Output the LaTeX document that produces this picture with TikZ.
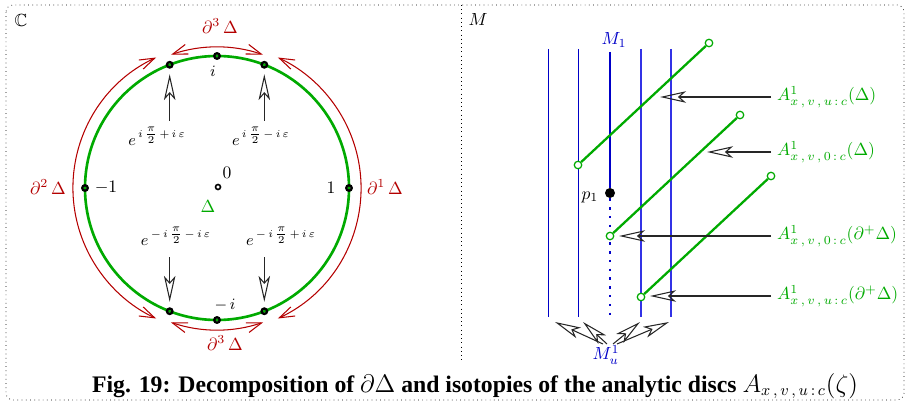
\documentclass[tikz,border=0pt]{standalone}
\usepackage{amsmath,amssymb}
\usepackage{fontspec}
\newfontfamily\capfont{Liberation Serif}
\usepackage{tikz}
\usetikzlibrary{arrows.meta,calc}
\definecolor{discgreen}{RGB}{0,170,0}
\definecolor{leafblue}{RGB}{0,0,200}
\definecolor{leafpale}{RGB}{50,50,230}
\definecolor{bdryred}{RGB}{180,0,0}

\begin{document}
\begin{tikzpicture}[
    x=0.02cm, y=-0.02cm,
    hollow/.style={-{Stealth[open,length=5.2mm,width=2.3mm,inset=1.3mm]}, semithick, black!85},
    bdry/.style={{Straight Barb[length=3mm,width=2mm]}-{Straight Barb[length=3mm,width=2mm]}, bdryred, semithick},
    bpt/.style={circle, draw, line width=1.3pt, inner sep=0pt, minimum size=1.1mm},
    gpt/.style={circle, draw=discgreen, fill=white, line width=0.7pt, inner sep=0pt, minimum size=1.5mm},
    leaf/.style={draw=leafblue, line width=0.5pt},
    paleleaf/.style={draw=leafpale, line width=0.65pt},
    disc/.style={discgreen, line width=1.3pt},
    elbl/.style={font=\small},
    alb/.style={anchor=west, text=discgreen}
]
\useasboundingbox (0,0) rectangle (908,405);
\draw[dotted, rounded corners=4pt] (6,5) rectangle (904,400);
\draw[dotted] (461,5) -- (461,360);

% left panel: the unit disc
\node (cplx) at (21,20) {$\mathbb{C}$};
\coordinate (O) at (217,188);
\draw[discgreen, line width=1.5pt] (O) circle[radius=132];
\draw[bdry] ($(O)+(65:144)$) arc[start angle=65, end angle=-65, radius=144];
\draw[bdry] ($(O)+(-115:144)$) arc[start angle=-115, end angle=-245, radius=144];
\draw[bdry] ($(O)+(-71:141)$) arc[start angle=-71, end angle=-109, radius=141];
\draw[bdry] ($(O)+(109:142)$) arc[start angle=109, end angle=71, radius=142];

\node[bpt] (pm1) at ($(O)+(180:132)$) {};
\node[bpt] (pp1) at ($(O)+(0:132)$) {};
\node[bpt] (pi) at ($(O)+(-90:132)$) {};
\node[bpt] (pmi) at ($(O)+(90:132)$) {};
\node[bpt] (ul) at ($(O)+(-111:132)$) {};
\node[bpt] (ur) at ($(O)+(-69:132)$) {};
\node[bpt] (ll) at ($(O)+(111:132)$) {};
\node[bpt] (lr) at ($(O)+(69:132)$) {};
\node[circle, draw, fill=white, line width=0.9pt, inner sep=0pt, minimum size=1mm] (zero) at (218,187) {};

\node (lm1) at (106,188) {$-1$};
\node (lp1) at (331,188) {$1$};
\node[font=\small] (li) at (213,71) {$i$};
\node[font=\small] (lmi) at (225,305) {$-\,i$};
\node (l0) at (227,173) {$0$};
\node[text=discgreen] (ldisc) at (208,206) {$\Delta$};

\node[text=bdryred] (d3t) at (220,26) {$\partial^3\,\Delta$};
\node[text=bdryred] (d2) at (48,187) {$\partial^2\,\Delta$};
\node[text=bdryred] (d1) at (385,187) {$\partial^1\,\Delta$};
\node[text=bdryred] (d3b) at (225,343) {$\partial^3\,\Delta$};

\node[elbl] (eul) at (157,136) {$e^{\,i\,\tfrac{\pi}{2}\,+\,i\,\varepsilon}$};
\node[elbl] (eur) at (261,136) {$e^{\,i\,\tfrac{\pi}{2}\,-\,i\,\varepsilon}$};
\node[elbl] (ell) at (176,236) {$e^{\,-\,i\,\tfrac{\pi}{2}\,-\,i\,\varepsilon}$};
\node[elbl] (elr) at (281,236) {$e^{\,-\,i\,\tfrac{\pi}{2}\,+\,i\,\varepsilon}$};
\draw[hollow, shorten >=1.1mm] (eul.north -| ul) -- (ul);
\draw[hollow, shorten >=1.1mm] (eur.north -| ur) -- (ur);
\draw[hollow, shorten >=1.1mm, shorten <=1.2mm] (ell.south -| ll) -- (ll);
\draw[hollow, shorten >=1.1mm, shorten <=1.2mm] (elr.south -| lr) -- (lr);

% right panel: the leaves and the discs
\node (M) at (478,19) {$M$};
\draw[leaf] (548,49) -- (548,317);
\draw[leaf] (578,49) -- (578,317);
\draw[paleleaf] (641,49) -- (641,317);
\draw[paleleaf] (671,49) -- (671,317);
\node[circle, fill, inner sep=0pt, minimum size=2mm] (p1) at (610,193) {};
\draw[leafblue, line width=1.3pt] (610,52) -- (p1);
\draw[leafblue, line width=1.3pt, dash pattern=on 1.4pt off 3.6pt] (p1) -- (610,318);
\node[text=leafblue] (M1) at (614,40) {$M_1$};
\node (lp1) at (590,197) {$p_1$};

\node[gpt] (d1a) at (578,165) {};
\node[gpt] (d1b) at (709,43) {};
\node[gpt] (d2a) at (610,236) {};
\node[gpt] (d2b) at (740,115) {};
\node[gpt] (d3a) at (641,297) {};
\node[gpt] (d3b) at (771,176) {};
\draw[disc] (d1a) -- (d1b);
\draw[disc] (d2a) -- (d2b);
\draw[disc] (d3a) -- (d3b);

\node[alb] (A1) at (771,97) {$A^1_{x\,,\,v\,,\,u\,:\,c}(\Delta)$};
\node[alb] (A2) at (771,152) {$A^1_{x\,,\,v\,,\,0\,:\,c}(\Delta)$};
\node[alb] (A3) at (771,236) {$A^1_{x\,,\,v\,,\,0\,:\,c}(\partial^+\Delta)$};
\node[alb] (A4) at (771,296) {$A^1_{x\,,\,v\,,\,u\,:\,c}(\partial^+\Delta)$};
\coordinate (t1) at (660,97);
\coordinate (t2) at (707,152);
\coordinate (t3) at (619,236);
\coordinate (t4) at (650,296);
\draw[hollow] (A1) -- (t1);
\draw[hollow] (A2) -- (t2);
\draw[hollow] (A3) -- (t3);
\draw[hollow] (A4) -- (t4);

\node[text=leafblue] (Mu) at (606,355) {$M^1_u$};
\coordinate (r1) at (603,344);
\coordinate (r2) at (607,344);
\coordinate (r3) at (613,344);
\coordinate (r4) at (617,344);
\coordinate (b1) at (555,322);
\coordinate (b2) at (583,322);
\coordinate (b3) at (640,322);
\coordinate (b4) at (669,322);
\draw[hollow] (r1) -- (b1);
\draw[hollow] (r2) -- (b2);
\draw[hollow] (r3) -- (b3);
\draw[hollow] (r4) -- (b4);

\node[font=\capfont\bfseries\fontsize{13.5}{16}\selectfont] (cap) at (475,386)
  {Fig. 19: Decomposition of $\partial\Delta$ and isotopies of the analytic discs $A_{x\,,\,v\,,\,u\,:\,c}(\zeta)$};
\end{tikzpicture}
\end{document}
